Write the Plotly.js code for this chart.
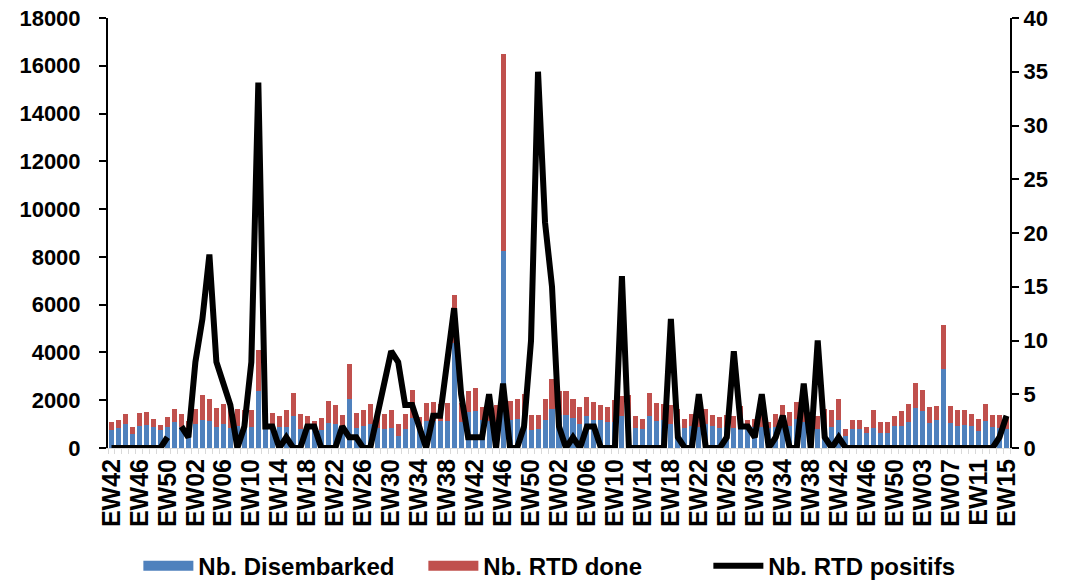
<!DOCTYPE html>
<html>
<head>
<meta charset="utf-8">
<script src="https://cdn.plot.ly/plotly-3.0.1.min.js"></script>
<style>
  html, body { margin: 0; padding: 0; background: #ffffff; }
  #chart { width: 1081px; height: 580px; }
</style>
</head>
<body>
<div id="chart"></div>
<script>
// ---- Category labels (epidemiological weeks, several years) ----
const weeksY1 = ["EW42","EW43","EW44","EW45","EW46","EW47","EW48","EW49","EW50","EW51","EW52"];
const weeksY2 = ["EW01","EW02","EW03","EW04","EW05","EW06","EW07","EW08","EW09","EW10","EW11","EW12","EW13",
  "EW14","EW15","EW16","EW17","EW18","EW19","EW20","EW21","EW22","EW23","EW24","EW25","EW26",
  "EW27","EW28","EW29","EW30","EW31","EW32","EW33","EW34","EW35","EW36","EW37","EW38","EW39",
  "EW40","EW41","EW42","EW43","EW44","EW45","EW46","EW47","EW48","EW49","EW50","EW51","EW52"];
const weeksY3 = ["EW01","EW02","EW03","EW04","EW05","EW06","EW07","EW08","EW09","EW10","EW11","EW12","EW13",
  "EW14","EW15","EW16","EW17","EW18","EW19","EW20","EW21","EW22","EW23","EW24","EW25","EW26",
  "EW27","EW28","EW29","EW30","EW31","EW32","EW33","EW34","EW35","EW36","EW37","EW38","EW39",
  "EW40","EW41","EW42","EW43","EW44","EW45","EW46","EW47","EW48","EW49","EW50","EW51","EW52"];
const weeksY4 = ["EW01","EW03","EW04","EW05","EW06","EW07","EW08","EW09","EW10","EW11","EW12","EW13","EW14","EW15"];
const weeks = weeksY1.concat(weeksY2, weeksY3, weeksY4);

// ---- Series values ----
const disembarked = [
  770, 850, 1000, 590, 935, 975, 860, 740, 880, 1105,
  880, 800, 1020, 1160, 1133, 867, 1021, 853, 923, 867,
  867, 2378, 800, 870, 860, 860, 1357, 805, 870, 820,
  771, 1065, 998, 880, 2055, 839, 909, 1006, 850, 800,
  839, 503, 784, 1272, 750, 1146, 1132, 1132, 1146, 4379,
  1090, 1496, 1566, 1160, 1150, 1100, 8254, 1189, 1216, 1300,
  770, 784, 1188, 1650, 1400, 1380, 1250, 1000, 1340, 1160,
  1160, 1090, 1100, 1340, 1200, 856, 786, 1357, 1118, 1160,
  995, 900, 840, 909, 900, 1020, 923, 856, 860, 840,
  1000, 980, 880, 880, 820, 880, 1160, 940, 1230, 1100,
  800, 786, 900, 880, 1188, 520, 786, 786, 620, 840,
  620, 620, 923, 937, 1104, 1678, 1538, 1062, 1188, 3287,
  1048, 937, 965, 937, 714, 1118, 867, 840, 780
];
const rtdDone = [
  320, 310, 410, 270, 535, 525, 350, 225, 420, 540,
  560, 350, 617, 1050, 923, 812, 840, 798, 728, 742,
  742, 1717, 500, 585, 482, 735, 930, 608, 470, 330,
  489, 890, 792, 490, 1441, 629, 671, 854, 650, 612,
  741, 503, 656, 1148, 550, 734, 798, 728, 754, 2028,
  810, 880, 936, 560, 750, 700, 8254, 784, 824, 980,
  628, 586, 882, 1230, 1000, 1024, 820, 720, 800, 755,
  630, 616, 900, 840, 1010, 486, 444, 933, 772, 670,
  795, 750, 360, 503, 600, 630, 447, 444, 510, 488,
  750, 210, 320, 560, 280, 560, 640, 570, 685, 600,
  700, 542, 750, 690, 882, 280, 374, 404, 250, 730,
  460, 460, 419, 603, 726, 1034, 880, 672, 588, 1861,
  700, 633, 643, 503, 516, 712, 517, 530, 520
];
const rtdPositive = [
  0, 0, 0, 0, 0, 0, 0, 0, 1, null,
  2, 1, 8, 12, 18, 8, 6, 4, 0, 2,
  8, 34, 2, 2, 0, 1, 0, 0, 2, 2,
  0, 0, 0, 2, 1, 1, 0, 0, 3, 6,
  9, 8, 4, 4, 2, 0, 3, 3, 8, 13,
  5, 1, 1, 1, 5, 0, 6, 0, 0, 2,
  10, 35, 21, 15, 2, 0, 1, 0, 2, 2,
  0, 0, 0, 16, 0, 0, 0, 0, 0, 0,
  12, 1, 0, 0, 5, 0, 0, 0, 1, 9,
  2, 2, 1, 5, 0, 1, 3, 0, 0, 6,
  0, 10, 1, 0, 1, 0, 0, 0, 0, 0,
  0, 0, 0, 0, 0, 0, 0, 0, 0, 0,
  0, 0, 0, 0, 0, 0, 0, 1, 3
];
const seriesNames = ["Nb. Disembarked", "Nb. RTD done", "Nb. RTD positifs"];
const seriesColors = ["#4F81BD", "#C0504D", "#000000"];

// ---- Build traces ----
const xIdx = weeks.map((_, i) => i);
const tickVals = xIdx.filter(i => i % 4 === 0);
const tickText = tickVals.map(i => weeks[i]);

const FONT = "Liberation Sans, Arial, sans-serif";

const traces = [
  { type: "bar", x: xIdx, y: disembarked, name: seriesNames[0],
    marker: { color: seriesColors[0] }, showlegend: false, hoverinfo: "x+y" },
  { type: "bar", x: xIdx, y: rtdDone, name: seriesNames[1],
    marker: { color: seriesColors[1] }, showlegend: false, hoverinfo: "x+y" },
  { type: "scatter", mode: "lines", x: xIdx, y: rtdPositive, name: seriesNames[2], yaxis: "y2",
    line: { color: seriesColors[2], width: 6, shape: "linear" }, showlegend: false, connectgaps: false },
  // legend-only entries (wide swatches like the reference)
  { type: "scatter", mode: "lines", x: [null], y: [null], name: seriesNames[0],
    line: { color: seriesColors[0], width: 10 }, legendrank: 1 },
  { type: "scatter", mode: "lines", x: [null], y: [null], name: seriesNames[1],
    line: { color: seriesColors[1], width: 10 }, legendrank: 2 },
  { type: "scatter", mode: "lines", x: [null], y: [null], name: seriesNames[2], yaxis: "y2",
    line: { color: seriesColors[2], width: 6 }, legendrank: 3 }
];

const layout = {
  width: 1081, height: 580,
  margin: { l: 108, r: 71, t: 18, b: 132, pad: 0 },
  paper_bgcolor: "#ffffff", plot_bgcolor: "#ffffff",
  font: { family: FONT, color: "#000000", size: 18, weight: "bold" },
  barmode: "stack",
  bargap: 0.28,
  showlegend: true,
  legend: {
    orientation: "h", x: 0.128, xanchor: "left", xref: "container",
    y: 0.024, yanchor: "middle", yref: "container",
    font: { family: FONT, size: 24, weight: "bold", color: "#000000" },
    itemwidth: 50, tracegroupgap: 0, traceorder: "normal",
    entrywidth: 220, entrywidthmode: "pixels"
  },
  xaxis: {
    range: [-0.5, weeks.length - 0.5],
    tickmode: "array", tickvals: tickVals, ticktext: tickText,
    tickangle: -90, ticks: "", showgrid: false, zeroline: false,
    showline: true, linecolor: "#d9d9d9", linewidth: 1,
    tickfont: { family: FONT, size: 25, weight: "bold", color: "#000000" },
    minor: { tick0: -0.5, dtick: 1, ticks: "outside", ticklen: 5, tickcolor: "#d9d9d9", tickwidth: 1, showgrid: false },
    automargin: false,
    fixedrange: true
  },
  yaxis: {
    range: [0, 18000], dtick: 2000, tick0: 0, tickformat: "d",
    showgrid: false, zeroline: false,
    showline: true, linecolor: "#000000", linewidth: 2,
    ticks: "outside", ticklen: 7, tickwidth: 2, tickcolor: "#000000",
    ticklabelstandoff: 14,
    tickfont: { family: FONT, size: 22, weight: "bold", color: "#000000" },
    automargin: false,
    fixedrange: true
  },
  yaxis2: {
    overlaying: "y", side: "right",
    range: [0, 40], dtick: 5, tick0: 0, tickformat: "d",
    showgrid: false, zeroline: false,
    showline: true, linecolor: "#000000", linewidth: 2,
    ticks: "outside", ticklen: 7, tickwidth: 2, tickcolor: "#000000",
    tickfont: { family: FONT, size: 22, weight: "bold", color: "#000000" },
    automargin: false,
    fixedrange: true
  }
};

Plotly.newPlot("chart", traces, layout, { displayModeBar: false, staticPlot: true });
</script>
</body>
</html>
